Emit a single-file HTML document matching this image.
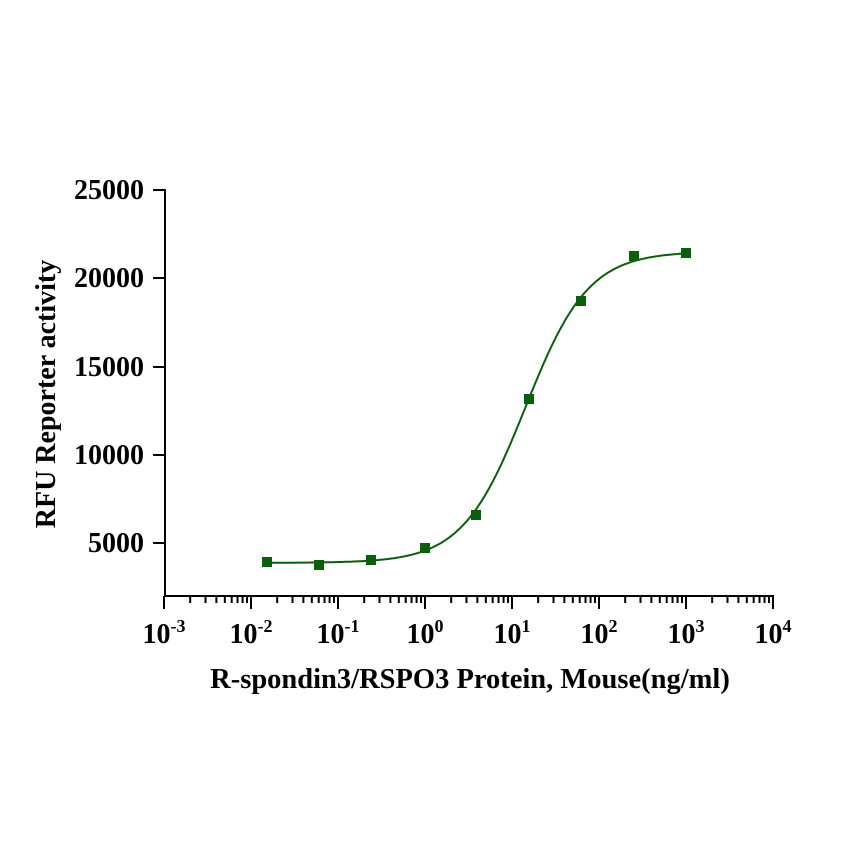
<!DOCTYPE html>
<html><head><meta charset="utf-8"><style>
body{margin:0;background:#fff}
svg text{font-family:"Liberation Serif",serif;font-weight:bold;fill:#000}
</style></head><body>
<svg id="s" width="858" height="858" xmlns="http://www.w3.org/2000/svg">
<g stroke="#000" stroke-width="2" fill="none" id="ax">
<line x1="165" y1="189" x2="165" y2="596"/>
<line x1="164" y1="596" x2="774" y2="596"/>
<line x1="153" y1="190" x2="165" y2="190"/>
<line x1="153" y1="278" x2="165" y2="278"/>
<line x1="153" y1="367" x2="165" y2="367"/>
<line x1="153" y1="455" x2="165" y2="455"/>
<line x1="153" y1="543" x2="165" y2="543"/>
</g>
<g font-size="28" text-anchor="end">
<text x="144" y="199">25000</text>
<text x="144" y="287">20000</text>
<text x="144" y="376">15000</text>
<text x="144" y="464">10000</text>
<text x="144" y="552">5000</text>
</g>
<g font-size="28" text-anchor="middle" id="xl"></g>
<text font-size="28" text-anchor="middle" transform="translate(55,394) rotate(-90)">RFU Reporter activity</text>
<text font-size="28.5" text-anchor="middle" x="470" y="688">R-spondin3/RSPO3 Protein, Mouse(ng/ml)</text>
<path id="c" fill="none" stroke="#0b5e0b" stroke-width="2"/>
<g id="p" fill="#0b5e0b"></g>
</svg>
<script>
var ns="http://www.w3.org/2000/svg",ax=document.getElementById('ax'),xl=document.getElementById('xl');
function X(l){return 164+(l+3)*87;}
function Y(v){return 595-(v-2050)*88.3/5000;}
for(var d=-3;d<=4;d++){var x=X(d);
 var ln=document.createElementNS(ns,'line');ln.setAttribute('x1',x);ln.setAttribute('x2',x);ln.setAttribute('y1',596);ln.setAttribute('y2',609);ax.appendChild(ln);
 var t=document.createElementNS(ns,'text');t.setAttribute('x',x);t.setAttribute('y',643);
 t.innerHTML='10<tspan font-size="18" dy="-11">'+(d<0?'-'+(-d):d)+'</tspan>';xl.appendChild(t);
 if(d<4)for(var k=2;k<10;k++){var xm=X(d+Math.log10(k));var m=document.createElementNS(ns,'line');m.setAttribute('x1',xm);m.setAttribute('x2',xm);m.setAttribute('y1',596);m.setAttribute('y2',603);ax.appendChild(m);}
}
function f(l){return 3870+17630/(1+Math.pow(10,(1.155-l)*1.2));}
var s='';for(var l=Math.log10(1000/Math.pow(4,8));l<=3.0001;l+=0.02){s+=(s?'L':'M')+X(l).toFixed(1)+','+Y(f(l)).toFixed(1);}
document.getElementById('c').setAttribute('d',s);
var pts=[[267,562],[319,565],[371,560],[425,548],[476,515],[529,399],[581,301],[634,256],[686,253]],g=document.getElementById('p');
pts.forEach(function(p){var r=document.createElementNS(ns,'rect');r.setAttribute('x',p[0]-5);r.setAttribute('y',p[1]-5);r.setAttribute('width',10);r.setAttribute('height',10);g.appendChild(r);});
</script>
</body></html>
